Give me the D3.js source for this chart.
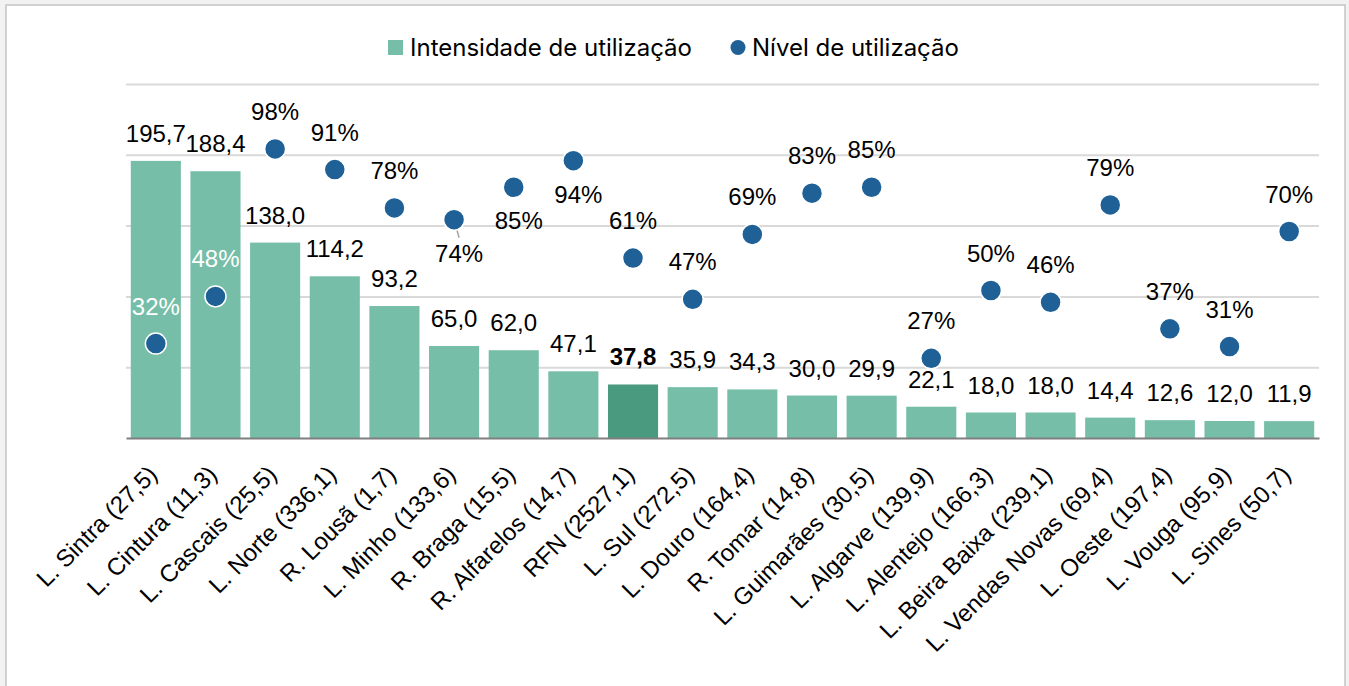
<!DOCTYPE html>
<html>
<head>
<meta charset="utf-8">
<script src="https://d3js.org/d3.v7.min.js"></script>
<style>
  body { margin: 0; background: #f2f2f2; }
  svg { display: block; }
  .lbl { font-family: "Liberation Sans", Arial, sans-serif; font-size: 24px; fill: #000; }
  .cat text { font-family: "Liberation Sans", Arial, sans-serif; font-size: 24px; fill: #000; }
  .legend text { font-family: Inter, "Noto Sans", sans-serif; font-size: 24px; fill: #000; }
</style>
</head>
<body>
<script>
// categories (name + km) and the two series
let categories = ["L. Sintra (27,5)", "L. Cintura (11,3)", "L. Cascais (25,5)", "L. Norte (336,1)",
  "R. Lousã (1,7)", "L. Minho (133,6)", "R. Braga (15,5)", "R. Alfarelos (14,7)", "RFN (2527,1)",
  "L. Sul (272,5)", "L. Douro (164,4)", "R. Tomar (14,8)", "L. Guimarães (30,5)", "L. Algarve (139,9)",
  "L. Alentejo (166,3)", "L. Beira Baixa (239,1)", "L. Vendas Novas (69,4)", "L. Oeste (197,4)",
  "L. Vouga (95,9)", "L. Sines (50,7)"];
let intensidade = [195.7, 188.4, 138.0, 114.2, 93.2, 65.0, 62.0, 47.1, 37.8, 35.9, 34.3, 30.0, 29.9,
  22.1, 18.0, 18.0, 14.4, 12.6, 12.0, 11.9];
let nivel = [0.32, 0.48, 0.98, 0.91, 0.78, 0.74, 0.85, 0.94, 0.61, 0.47, 0.69, 0.83, 0.85, 0.27,
  0.50, 0.46, 0.79, 0.37, 0.31, 0.70];
let gridTicks = [50, 100, 150, 200, 250];
// label placement for the dots: "above", "below" or "white" (inside bar)
let dotLabelPos = ["white", "white", "above", "above", "above", "below", "below", "below", "above",
  "above", "above", "above", "above", "above", "above", "above", "above", "above", "above", "above"];
let highlight = "RFN (2527,1)";

let barColor = "#76bea8", barHi = "#4a9a80", dotColor = "#1f6096";
let fmt = v => v.toFixed(1).replace(".", ",");

let svg = d3.select("body").append("svg")
    .attr("width", 1349)
    .attr("height", 686);

// chart frame
svg.append("rect")
    .attr("x", 6).attr("y", 5).attr("width", 1339).attr("height", 700)
    .attr("fill", "#fff").attr("stroke", "#c4c4c4").attr("stroke-width", 1.5);

let plotLeft = 126, plotRight = 1319, plotTop = 84, plotBottom = 438;

let x = d3.scaleBand()
    .domain(categories)
    .range([plotLeft, plotRight])
    .paddingInner(0.16)
    .paddingOuter(0.08);

let y = d3.scaleLinear().domain([0, 250]).range([plotBottom, plotTop]);
let y2 = d3.scaleLinear().domain([0, 1.2]).range([plotBottom, plotTop]);

// gridlines
svg.append("g")
    .attr("transform", `translate(${plotLeft},0)`)
    .call(d3.axisLeft(y).tickValues(gridTicks).tickSize(-(plotRight - plotLeft)).tickFormat(""))
    .call(g => g.select(".domain").remove())
    .call(g => g.selectAll("line").attr("stroke", "#d9d9d9").attr("stroke-width", 2));

// bars
svg.selectAll("rect.bar")
    .data(categories)
    .join("rect")
    .attr("class", "bar")
    .attr("x", d => x(d))
    .attr("y", (d, i) => y(intensidade[i]))
    .attr("width", x.bandwidth())
    .attr("height", (d, i) => y(0) - y(intensidade[i]))
    .attr("fill", d => d === highlight ? barHi : barColor);

// x axis
svg.append("g")
    .attr("class", "cat")
    .attr("transform", `translate(0,${plotBottom})`)
    .call(d3.axisBottom(x).tickSize(0))
    .call(g => g.select(".domain").attr("stroke", "#7f7f7f").attr("stroke-width", 2))
    .call(g => g.selectAll("text")
        .attr("x", 0).attr("y", 0).attr("dy", "0.35em")
        .attr("text-anchor", "end")
        .attr("transform", "translate(-3,32) rotate(-45)"));

// bar labels
svg.selectAll("text.barlbl")
    .data(categories)
    .join("text")
    .attr("class", "lbl barlbl")
    .attr("x", d => x(d) + x.bandwidth() / 2)
    .attr("y", (d, i) => y(intensidade[i]) - 19)
    .attr("text-anchor", "middle")
    .attr("font-weight", d => d === highlight ? "bold" : null)
    .text((d, i) => fmt(intensidade[i]));

// leader line for the 74% label
categories.forEach((d, i) => {
    if (i === 5) {
        let cx = x(d) + x.bandwidth() / 2;
        svg.append("line")
            .attr("x1", cx).attr("y1", y2(nivel[i]))
            .attr("x2", cx + 5).attr("y2", y2(nivel[i]) + 18)
            .attr("stroke", "#a6a6a6").attr("stroke-width", 1.5);
    }
});

// dots
svg.selectAll("circle.dot")
    .data(categories)
    .join("circle")
    .attr("class", "dot")
    .attr("cx", d => x(d) + x.bandwidth() / 2)
    .attr("cy", (d, i) => y2(nivel[i]))
    .attr("r", 10.5)
    .attr("fill", dotColor)
    .attr("stroke", "#fff")
    .attr("stroke-width", 1.5);

// dot labels
svg.selectAll("text.dotlbl")
    .data(categories)
    .join("text")
    .attr("class", "lbl dotlbl")
    .attr("x", (d, i) => x(d) + x.bandwidth() / 2 + (dotLabelPos[i] === "below" ? 5 : 0))
    .attr("y", (d, i) => y2(nivel[i]) + (dotLabelPos[i] === "below" ? 42 : -29))
    .attr("text-anchor", "middle")
    .style("fill", (d, i) => dotLabelPos[i] === "white" ? "#fff" : null)
    .text((d, i) => Math.round(nivel[i] * 100) + "%");

// legend
let legend = svg.append("g").attr("class", "legend");
legend.append("rect")
    .attr("x", 388).attr("y", 40).attr("width", 15).attr("height", 15)
    .attr("fill", barColor);
legend.append("text")
    .attr("x", 410).attr("y", 56)
    .text("Intensidade de utilização");
legend.append("circle")
    .attr("cx", 738).attr("cy", 47.5).attr("r", 7.5)
    .attr("fill", dotColor);
legend.append("text")
    .attr("x", 752).attr("y", 56)
    .text("Nível de utilização");
</script>
</body>
</html>
